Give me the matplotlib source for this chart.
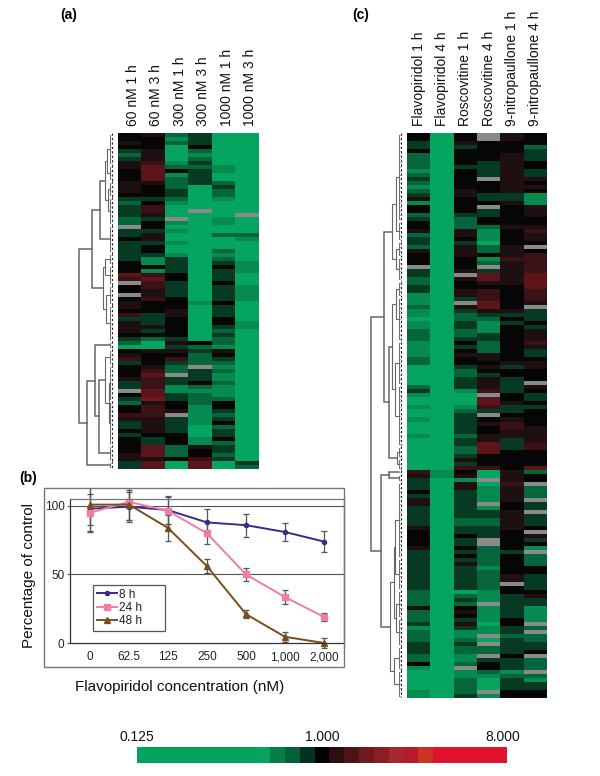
import numpy as np
import matplotlib
matplotlib.use('Agg')
import matplotlib.pyplot as plt
from matplotlib.colors import ListedColormap
from matplotlib.lines import Line2D
from matplotlib.patches import Rectangle
from matplotlib.transforms import ScaledTranslation

plt.rcParams['font.family'] = ['Liberation Sans', 'DejaVu Sans']

W, H = 600, 776

# colour bar, 25 steps, 12 is black
scale_colors = ['#00A35C'] * 8 + ['#06A35E', '#057F4A', '#05603A', '#03331D', '#030303',
                                  '#2A0E10', '#4D1318', '#6E1A1E', '#8A2024', '#A52A2A',
                                  '#B51A2E', '#CC3326'] + ['#E0122E'] * 5
scale_steps = list(range(25))
scale_labels = ['0.125', '1.000', '8.000']

# cell colours for levels 0 bright green .. 4 black .. 8 red
level_colors = ['#06A55F', '#058A50', '#05663C', '#073A23', '#060606',
                '#1E0F10', '#3A1215', '#5C1519', '#701A1C']

# heat map rows, x is a missing cell
panel_a_cols = ['60 nM 1 h', '60 nM 3 h', '300 nM 1 h', '300 nM 3 h', '1000 nM 1 h', '1000 nM 3 h']
panel_a = [
    '452300', '441300', '542300', '440400', '350200', '250100', '350200', '561300', '572210',
    '474310', '471300', '472300', '552320', '542030', '543020', '443020', '332010', '241000',
    '360000', '360x00', '35000x', '23x010', '241010', 'x40000', '331000',
    '350022', '450001', '331000', '340000', '340020', '331010', '313020', '413031', '443041',
    '413031', '764030', '674030', 'x63040', '463031', '453031', 'x53031', '464031', '544140',
    '544030', '445030', '635030', '334040', '534041', '554031', '534020', '444030', '323020',
    '205420', '003210', '455350', '544240', '646230', '343220', '452x10', '462320', '47x310',
    '563310', '363420', '361210', 'x71110', '473210', '383220', '254240', '464140', '465130',
    '66x120', '553130', '353140', '353020', '453030', '344030', '434140', '434120', '472530',
    '472430', '572420', '554630', '370703', '370702',
]

panel_c_cols = ['Flavopiridol 1 h', 'Flavopiridol 4 h', 'Roscovitine 1 h', 'Roscovitine 4 h',
                '9-nitropaullone 1 h', '9-nitropaullone 4 h']
panel_c = [
    '404x54', '404x54', '305444', '303442', '404443', '204453', '204453',
    '204354', '203354', '104353', '204353', '304x55', '204454', '104455', '205454', '305331',
    '504331', '104451', '404x45', '404345', '203345', '302444', '402444', '402255', '505146',
    '205145', '304145', '303044', '20525x', '505254', '405456', '404166', '404256', 'x04x56',
    '305356', '30x757', '205757', '204557', '304447', '305646', '105646', '103646', '10x745',
    '20574x', '103553', '102333', '002243', '103134', '103143', '202145', '202345', '203345',
    '104246', '103245', '104243', '105543', '204544', '204455', '003535', '002444', '002344',
    '003534', '00353x', '203535', '301634', '100x43', '000743', '000754', '101633', '002334',
    '003x44', '103454', '003564', '003465', '003455', '102555', '003535', '003736', '002736',
    '002744', '003444', '005444', '003444', '006647', '614052', '515054', '301x54', '30506x',
    '305152', '403152', '303152', '50315x', '503x43', '303143', '30335x', '303353', '302253',
    '302253', '503354', '40334x', '404345', '403x43', '403x44', '504241', '30323x', '304242',
    '303242', '305242', '303144', '303244', '303253', '303253', '3032x3', '303243', '200144',
    '202135', '203133', '202x33', '504131', '205131', '204131', '203141', '30504x', '103132',
    '20113x', '201x22', '202032', '303x33', '302233', '302234', '201x4x',
    '201332', '402432', '10x432', '00121x', '001122', '002031', '002033', '002033', '102x44',
    '103144',
]

# dendrogram trees: (distance, upper, lower), a pair is a block of leaf rows
tree_a = (33.5,
          (20.5,
           (13, (8, (6, (0, 7), (8, 11)), (5, (12, 15), (16, 22))), (23, 29)),
           (10, (7.5, (30, 32), (33, 37)), (6.5, (38, 42), (43, 51)))),
          (26,
           (17.2, (52, 53),
            (13.2, (7.5, (54, 57), (4, (58, 66), (67, 77))), (78, 81))),
           (82, 83)))
tree_c = (31,
          (18,
           (10, (6, (0, 21), (22, 26)), (6, (27, 30), (31, 36))),
           (13.3,
            (10, (6, (37, 40), (41, 51)), (7, (52, 62), (63, 77))),
            (5, (78, 80), (81, 83)))),
          (21,
           (13.3, (84, 84), (85, 86)),
           (11.7,
            (8.3, (6.7, (87, 105), (106, 113)), (6, (114, 120), (121, 127))),
            (8.3, (128, 133), (134, 140)))))

# viability curves
conc_labels = ['0', '62.5', '125', '250', '500', '1,000', '2,000']
viab_8h = [98, 99.5, 97, 88, 86, 81, 74]
viab_24h = [95, 103, 96.5, 80, 50, 33.5, 19]
viab_48h = [101, 101, 84, 56, 21, 4.5, 0]
err_8h = [16, 11, 10, 9.5, 8.5, 6.5, 7.5]
err_24h = [14, 13, 10, 8, 5, 5, 3]
err_48h = [15, 11, 9.5, 5, 3, 3.5, 3.5]


def px_axes(fig, left, top, right, bottom):
    return fig.add_axes([left / W, 1 - bottom / H, (right - left) / W, (bottom - top) / H])


def to_levels(rows):
    a = np.array([[int(c) if c != 'x' else -1 for c in r] for r in rows], dtype=float)
    return np.ma.masked_less(a, 0)


def draw_tree(ax, node, leaf_d=3.0):
    if len(node) == 2:
        a, b = node
        for r in range(a, b + 1):
            ax.plot([leaf_d, 1.2], [r, r], color='#888888', lw=0.4, solid_capstyle='butt')
        ax.plot([0.8, 0.8], [a - 0.4, b + 0.4], color='#222222', lw=0.8, ls=(0, (2, 2)))
        if b > a:
            ax.plot([leaf_d, leaf_d], [a, b], color='#555555', lw=0.6)
        return leaf_d, (a + b) / 2
    d, upper, lower = node
    du, yu = draw_tree(ax, upper, leaf_d)
    dl, yl = draw_tree(ax, lower, leaf_d)
    lw = 1.1 if d > 12 else 0.8
    ax.plot([du, d, d, dl], [yu, yu, yl, yl], color='#666666', lw=lw, solid_joinstyle='miter')
    return d, (yu + yl) / 2


def heat_panel(fig, rows, cols, box, tree_box, leaf_px, shift=0):
    ax = px_axes(fig, *box)
    ax.imshow(to_levels(rows), cmap=cell_cmap, vmin=-0.5, vmax=8.5, aspect='auto',
              interpolation='nearest')
    ax.xaxis.tick_top()
    ax.set_xticks(range(len(cols)))
    ax.set_xticklabels(cols, rotation=90, fontsize=10, color='#111111')
    ax.tick_params(axis='x', length=0, pad=5)
    ax.set_yticks([])
    for t in ax.get_xticklabels():
        t.set_transform(t.get_transform() + ScaledTranslation(shift / 100, 0, fig.dpi_scale_trans))
    for s in ax.spines.values():
        s.set_visible(False)

    dax = px_axes(fig, tree_box[0], box[1], tree_box[1], box[3])
    dax.set_xlim(leaf_px - tree_box[0], leaf_px - tree_box[1])
    dax.set_ylim(len(rows) - 0.5, -0.5)
    dax.axis('off')
    return dax


fig = plt.figure(figsize=(W / 100, H / 100), dpi=100, facecolor='white')
scale_cmap = ListedColormap(scale_colors)
cell_cmap = ListedColormap(level_colors)
cell_cmap.set_bad('#8A8A8A')

dax = heat_panel(fig, panel_a, panel_a_cols, (118, 133, 259, 469), (70, 118), 112.5, shift=3)
draw_tree(dax, tree_a)
dax = heat_panel(fig, panel_c, panel_c_cols, (407, 133, 547, 698), (362, 407), 402)
draw_tree(dax, tree_c)

# panel b
frame = Rectangle((44 / W, 1 - 667 / H), 300 / W, 179 / H, transform=fig.transFigure,
                  fill=False, edgecolor='#777777', lw=1)
fig.add_artist(frame)

ax = px_axes(fig, 70, 499, 344, 643)
ax.set_xlim(-0.51, 6.51)
ax.set_ylim(0, 105.1)
ax.set_facecolor('none')
xs = np.arange(len(conc_labels))
series = [
    (viab_8h, err_8h, '#3A2A8C', 'o', 3, '8 h'),
    (viab_24h, err_24h, '#F27CA4', 's', 4, '24 h'),
    (viab_48h, err_48h, '#7A4E1C', '^', 4, '48 h'),
]
handles = []
for y, e, c, m, ms, lab in series:
    cont = ax.errorbar(xs, y, yerr=e, color=c, marker=m, ms=ms, lw=1.4,
                       ecolor='#555555', elinewidth=0.9, capsize=2.2, capthick=0.9)
    for art in list(cont[1]) + list(cont[2]):
        art.set_clip_path(frame)
    cont[0].set_clip_on(False)
    handles.append(Line2D([], [], color=c, marker=m, ms=ms, lw=1.4, label=lab))
ax.axhline(100, color='#555555', lw=0.8, zorder=0)
ax.axhline(50, color='#555555', lw=0.8, zorder=0)
ax.set_xticks(xs)
ax.set_xticklabels(conc_labels, fontsize=8.5, color='#222222')
ax.set_yticks([0, 50, 100])
ax.set_yticklabels(['0', '50', '100'], fontsize=8.5, color='#222222')
ax.tick_params(axis='x', length=0, pad=6)
ax.tick_params(axis='y', length=2, width=0.8, color='#555555', pad=2)
for s in ax.spines.values():
    s.set_color('#777777')
    s.set_linewidth(0.9)
ax.spines['left'].set_color('#333333')
ax.spines['bottom'].set_color('#333333')
leg = ax.legend(handles=handles, loc='lower left', mode='expand',
                bbox_to_anchor=((93 - 70) / 274, (643 - 631) / 144, 72 / 274, 48 / 144),
                fontsize=8.5, frameon=True, fancybox=False, edgecolor='#555555', framealpha=1,
                borderaxespad=0, borderpad=0.3, labelspacing=0.12, handlelength=1.7,
                handletextpad=0.2)
leg.get_frame().set_linewidth(0.9)
for t in leg.get_texts():
    t.set_color('#222222')

fig.text(29 / W, 1 - 575 / H, 'Percentage of control', rotation=90, ha='center', va='center',
         fontsize=11, color='#111111')
fig.text(180 / W, 1 - 687 / H, 'Flavopiridol concentration (nM)', ha='center', va='center',
         fontsize=11, color='#111111')

# panel letters
fig.text(68.5 / W, 1 - 15 / H, '(a)', ha='center', va='center', fontsize=10, fontweight='bold')
fig.text(28.5 / W, 1 - 478 / H, '(b)', ha='center', va='center', fontsize=10, fontweight='bold')
fig.text(361 / W, 1 - 15 / H, '(c)', ha='center', va='center', fontsize=10, fontweight='bold')

# colour bar
cax = px_axes(fig, 137, 747, 507, 763)
cax.imshow([scale_steps], cmap=scale_cmap, vmin=-0.5, vmax=24.5, aspect='auto',
           interpolation='nearest')
cax.axis('off')
for xp, lab in zip([137, 322.5, 503], scale_labels):
    fig.text(xp / W, 1 - 737 / H, lab, ha='center', va='center', fontsize=10, color='#111111')

plt.savefig('out.png', dpi=100)
